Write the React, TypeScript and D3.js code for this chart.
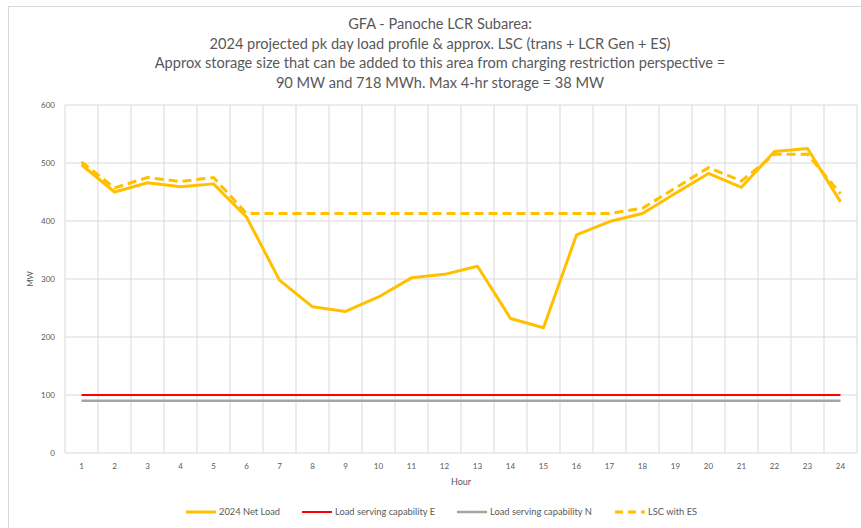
import React from "react";
import * as d3 from "d3";

const hours = d3.range(1, 25);
const netLoad = [497, 450, 466, 459, 464, 407, 298, 252, 244, 269, 302, 308, 322, 232, 216, 376, 399, 413, 448, 482, 458, 520, 525, 433];
const lscWithES = [502, 457, 475, 468, 475, 413, 413, 413, 413, 413, 413, 413, 413, 413, 413, 413, 413, 422, 457, 492, 469, 515, 515, 447];
const lscE = hours.map(() => 100);
const lscN = hours.map(() => 90);
const yTicks = [0, 100, 200, 300, 400, 500, 600];
const titleLines = [
  "GFA - Panoche LCR Subarea:",
  "2024 projected pk day load profile & approx. LSC (trans + LCR Gen + ES)",
  "Approx storage size that can be added to this area from charging restriction perspective =",
  "90 MW and 718 MWh. Max 4-hr storage = 38 MW",
];
const legendItems = [
  { label: "2024 Net Load", color: "#FFC000", dash: "", w: 3, x: 186 },
  { label: "Load serving capability E", color: "#FF0000", dash: "", w: 2, x: 302 },
  { label: "Load serving capability N", color: "#A5A5A5", dash: "", w: 2.5, x: 457 },
  { label: "LSC with ES", color: "#FFC000", dash: "8,5", w: 3, x: 615 },
];

export default function App() {
  const W = 861, H = 528;
  const left = 65, right = 857, top = 105, bottom = 453;
  const x = d3.scaleBand<number>().domain(hours).range([left, right]);
  const y = d3.scaleLinear().domain([0, 600]).range([bottom, top]);
  const cx = (h: number) => (x(h) as number) + x.bandwidth() / 2;
  const line = d3.line<number>().x((_, i) => cx(hours[i])).y((v) => y(v));
  const font = "Lato, 'Open Sans', sans-serif";
  const txt = "#595959";
  return (
    <svg width={W} height={H} style={{ position: "absolute", left: 0, top: 0, background: "#fff" }} fontFamily={font}>
      <rect x={8.5} y={6.5} width={880} height={560} fill="#fff" stroke="#d9d9d9" />
      {titleLines.map((t, i) => (
        <text key={i} x={440} y={29 + i * 19.5} textAnchor="middle" fontSize={14.6} fill={txt}>{t}</text>
      ))}
      {yTicks.map((t) => (
        <g key={t}>
          <line x1={left} x2={right} y1={y(t)} y2={y(t)} stroke="#d9d9d9" strokeWidth={1} />
          <text x={55} y={y(t) + 3} textAnchor="end" fontSize={8} fill={txt}>{t}</text>
        </g>
      ))}
      {d3.range(0, 25).map((i) => {
        const xv = left + i * x.bandwidth();
        return <line key={i} x1={xv} x2={xv} y1={top} y2={bottom} stroke="#d9d9d9" strokeWidth={1} />;
      })}
      {hours.map((h) => (
        <text key={h} x={cx(h)} y={469} textAnchor="middle" fontSize={8} fill={txt}>{h}</text>
      ))}
      <text x={461} y={485} textAnchor="middle" fontSize={9} fill={txt}>Hour</text>
      <text transform={`translate(33,${(top + bottom) / 2}) rotate(-90)`} textAnchor="middle" fontSize={8} fill={txt}>MW</text>
      <path d={line(lscN) || ""} fill="none" stroke="#A5A5A5" strokeWidth={2.5} />
      <path d={line(lscE) || ""} fill="none" stroke="#FF0000" strokeWidth={2} />
      <path d={line(netLoad) || ""} fill="none" stroke="#FFC000" strokeWidth={3} strokeLinejoin="round" />
      <path d={line(lscWithES) || ""} fill="none" stroke="#FFC000" strokeWidth={3} strokeDasharray="9,5" />
      {legendItems.map((it) => (
        <g key={it.label}>
          <line x1={it.x} x2={it.x + 30} y1={512} y2={512} stroke={it.color} strokeWidth={it.w} strokeDasharray={it.dash} />
          <text x={it.x + 33} y={515} fontSize={9.3} fill={txt}>{it.label}</text>
        </g>
      ))}
    </svg>
  );
}
